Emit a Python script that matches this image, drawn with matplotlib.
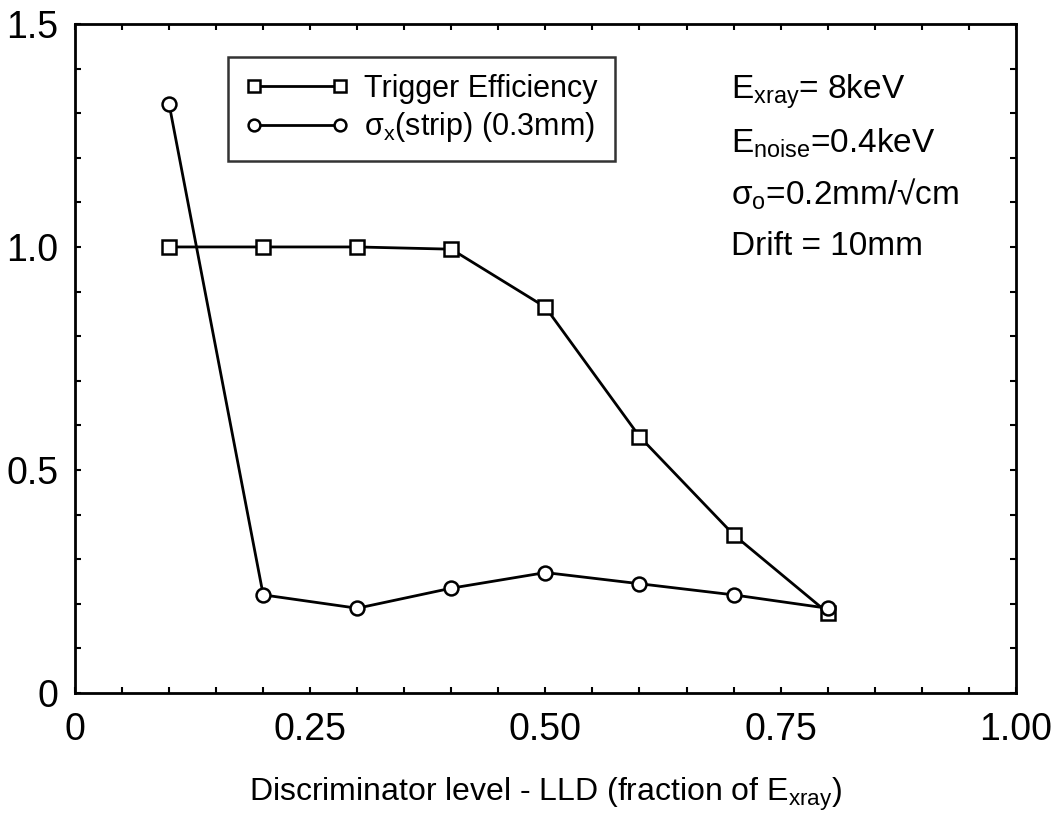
import matplotlib
matplotlib.use("Agg")
import matplotlib.pyplot as plt
from matplotlib.ticker import MultipleLocator, FixedFormatter, FixedLocator

plt.rcParams['font.family'] = ['Liberation Sans', 'DejaVu Sans']
plt.rcParams['mathtext.fontset'] = 'custom'
plt.rcParams['mathtext.rm'] = 'Liberation Sans'
plt.rcParams['mathtext.it'] = 'Liberation Sans'

# discriminator level (fraction of E_xray)
lld = [0.1, 0.2, 0.3, 0.4, 0.5, 0.6, 0.7, 0.8]
trigger_eff = [1.0, 1.0, 1.0, 0.995, 0.865, 0.575, 0.355, 0.18]
sigma_strip = [1.32, 0.22, 0.19, 0.235, 0.27, 0.245, 0.22, 0.19]

x_ticks = [0, 0.25, 0.5, 0.75, 1.0]
x_ticklabels = ['0', '0.25', '0.50', '0.75', '1.00']
y_ticks = [0, 0.5, 1.0, 1.5]
y_ticklabels = ['0', '0.5', '1.0', '1.5']

fig = plt.figure(figsize=(10.57, 8.25), dpi=100)
ax = fig.add_axes([0.071, 0.160, 0.890, 0.811])

ax.plot(lld, trigger_eff, color='black', lw=2, marker='s', ms=10,
        mfc='white', mec='black', mew=1.8, label='Trigger Efficiency')
ax.plot(lld, sigma_strip, color='black', lw=2, marker='o', ms=10,
        mfc='white', mec='black', mew=1.8,
        label=r'$\mathregular{σ_x}$(strip) (0.3mm)')

ax.set_xlim(0, 1.0)
ax.set_ylim(0, 1.5)
ax.xaxis.set_major_locator(FixedLocator(x_ticks))
ax.xaxis.set_major_formatter(FixedFormatter(x_ticklabels))
ax.yaxis.set_major_locator(FixedLocator(y_ticks))
ax.yaxis.set_major_formatter(FixedFormatter(y_ticklabels))
ax.xaxis.set_minor_locator(MultipleLocator(0.05))
ax.yaxis.set_minor_locator(MultipleLocator(0.1))
ax.tick_params(which='both', direction='in', top=True, right=True,
               length=4, width=1.5, labelsize=27)
ax.tick_params(axis='x', pad=14)
ax.tick_params(axis='y', pad=12)
for s in ax.spines.values():
    s.set_linewidth(2)

ax.set_xlabel(r'Discriminator level - LLD (fraction of $\mathregular{E_{xray}}$)',
              fontsize=23, labelpad=20)

leg = ax.legend(loc='upper left', bbox_to_anchor=(0.163, 0.95), fontsize=22,
                numpoints=2, handlelength=3.4, frameon=True, fancybox=False,
                borderpad=0.55, labelspacing=0.2, handletextpad=0.5,
                borderaxespad=0, markerscale=0.85)
leg.get_frame().set_edgecolor('black')
leg.get_frame().set_linewidth(1.8)

notes = [r'$\mathregular{E_{xray}}$= 8keV',
         r'$\mathregular{E_{noise}}$=0.4keV',
         r'$\mathregular{σ_o}$=0.2mm/√cm',
         'Drift = 10mm']
for i, t in enumerate(notes):
    ax.text(0.697, 0.899 - i * 0.077, t, transform=ax.transAxes,
            fontsize=24, va='center', ha='left')

fig.savefig('out.png', dpi=100)
